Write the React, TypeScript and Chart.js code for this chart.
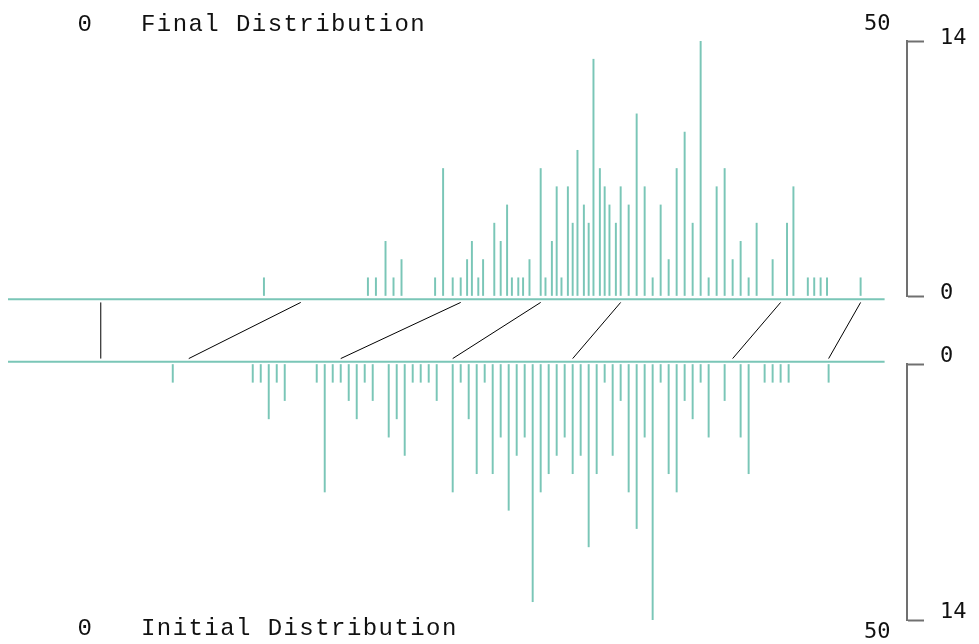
import { useEffect, useRef } from "react";
import { Chart, registerables } from "chart.js";

Chart.register(...registerables);

// ---- data (x positions in the 0..50 units of the chart) ----
const initialX = [
  5.5, 10.5, 11, 11.5, 12, 12.5, 14.5, 15, 15.5, 16, 16.5, 17, 17.5, 18, 19, 19.5, 20, 20.5, 21, 21.5, 22,
  23, 23.5, 24, 24.5, 25, 25.5, 26, 26.5, 27, 27.5, 28, 28.5, 29, 29.5, 30, 30.5, 31, 31.5, 32, 32.5,
  33, 33.5, 34, 34.5, 35, 35.5, 36, 36.5, 37, 37.5, 38, 38.5, 39,
  40, 41, 41.5, 42.5, 43, 43.5, 44, 46.5,
];
const initialCounts = [
  1, 1, 1, 3, 1, 2, 1, 7, 1, 1, 2, 3, 1, 2, 4, 3, 5, 1, 1, 1, 2,
  7, 1, 3, 6, 1, 6, 4, 8, 5, 4, 13, 7, 6, 5, 4, 6, 5, 10, 6, 1,
  5, 2, 7, 9, 4, 14, 1, 6, 7, 2, 3, 1, 4,
  2, 4, 6, 1, 1, 1, 1, 1,
];
const finalX = [
  11.2, 17.7, 18.2, 18.8, 19.3, 19.8, 21.9, 22.4, 23.0, 23.5, 23.9, 24.2, 24.6, 24.9, 25.6, 26.0, 26.4, 26.7, 27.1, 27.4, 27.8,
  28.5, 28.8, 29.2, 29.5, 29.8, 30.2, 30.5, 30.8, 31.2, 31.5, 31.8, 32.2, 32.5, 32.8, 33.2, 33.5, 34, 34.5, 35, 35.5,
  36, 36.5, 37, 37.5, 38, 38.5, 39, 39.5, 40, 40.5, 41, 41.5, 42,
  43, 43.9, 44.3, 45.2, 45.6, 46.0, 46.4, 48.5,
];
const finalCounts = [
  1, 1, 1, 3, 1, 2, 1, 7, 1, 1, 2, 3, 1, 2, 4, 3, 5, 1, 1, 1, 2,
  7, 1, 3, 6, 1, 6, 4, 8, 5, 4, 13, 7, 6, 5, 4, 6, 5, 10, 6, 1,
  5, 2, 7, 9, 4, 14, 1, 6, 7, 2, 3, 1, 4,
  2, 4, 6, 1, 1, 1, 1, 1,
];
// mapping lines: initial value -> final value
const linkInitial = [1, 6.5, 16, 23, 30.5, 40.5, 46.5];
const linkFinal = [1, 13.5, 23.5, 28.5, 33.5, 43.5, 48.5];

const xDomain = [0, 50];
const countDomain = [0, 14];
const titleFinal = "Final Distribution";
const titleInitial = "Initial Distribution";

// ---- styles ----
const TEAL = "rgb(122,198,183)";
const AXIS_GRAY = "#707070";
const TEXT = "#111";
const X_MIN = -4.8;
const X_MAX = 51.4;

const textPlugin = {
  id: "distTexts",
  afterDraw(chart: any) {
    const { ctx } = chart;
    const xs = chart.scales.x;
    ctx.save();
    ctx.fillStyle = TEXT;
    ctx.textBaseline = "alphabetic";
    ctx.font = '24px "Liberation Mono"';
    ctx.letterSpacing = "0px";
    const half = ctx.measureText(String(xDomain[0])).width / 2;
    ctx.letterSpacing = "1.44px";
    ctx.textAlign = "left";
    const x0 = xs.getPixelForValue(xDomain[0]) - half;
    ctx.fillText(`${xDomain[0]}   ${titleFinal}`, x0, 31);
    ctx.fillText(`${xDomain[0]}   ${titleInitial}`, x0, 635);
    ctx.letterSpacing = "0px";
    ctx.font = '22px "DejaVu Sans Mono"';
    ctx.textAlign = "right";
    const x50 = xs.getPixelForValue(xDomain[1]) + 6;
    ctx.fillText(String(xDomain[1]), x50, 30);
    ctx.fillText(String(xDomain[1]), x50, 638);
    ctx.restore();
  },
};

const bracketAxis = (reverse: boolean, offset: number, weight: number) => ({
  type: "linear" as const,
  position: "right" as const,
  stack: "main",
  stackWeight: weight,
  min: countDomain[0],
  max: countDomain[1],
  reverse,
  afterFit: (s: any) => {
    s.width = 72;
    s.paddingTop = 0;
    s.paddingBottom = 0;
  },
  ticks: {
    stepSize: countDomain[1] - countDomain[0],
    padding: 16,
    labelOffset: offset,
    color: TEXT,
    font: { family: '"DejaVu Sans Mono"', size: 22 },
  },
  grid: {
    display: true,
    drawOnChartArea: false,
    drawTicks: true,
    tickLength: 17,
    tickWidth: 2,
    tickColor: AXIS_GRAY,
  },
  border: { display: true, color: AXIS_GRAY, width: 2 },
});

export default function App() {
  const canvasRef = useRef<HTMLCanvasElement | null>(null);

  useEffect(() => {
    if (!canvasRef.current) return;
    const linkSets = linkInitial.map((xi, i) => ({
      type: "line" as const,
      data: [
        { x: xi, y: 0.05 },
        { x: linkFinal[i], y: 0.95 },
      ],
      yAxisID: "yMid",
      borderColor: "#000",
      borderWidth: 1,
      pointRadius: 0,
    }));
    const baseline = (y: number) => ({
      type: "line" as const,
      data: [
        { x: X_MIN, y },
        { x: xDomain[1], y },
      ],
      yAxisID: "yMid",
      borderColor: TEAL,
      borderWidth: 2,
      pointRadius: 0,
    });
    const chart = new Chart(canvasRef.current, {
      type: "bar",
      data: {
        datasets: [
          {
            type: "bar",
            data: finalX.map((x, i) => ({ x, y: finalCounts[i] })),
            yAxisID: "yFinal",
            backgroundColor: TEAL,
            barThickness: 1.3,
            grouped: false,
          },
          {
            type: "bar",
            data: initialX.map((x, i) => ({ x, y: initialCounts[i] })),
            yAxisID: "yInitial",
            backgroundColor: TEAL,
            barThickness: 1.3,
            grouped: false,
          },
          baseline(1),
          baseline(0),
          ...linkSets,
        ] as any,
      },
      options: {
        responsive: false,
        animation: false,
        events: [],
        layout: { padding: { left: 8, top: 41, right: 0, bottom: 24 } },
        plugins: { legend: { display: false }, tooltip: { enabled: false } },
        scales: {
          x: {
            type: "linear",
            min: X_MIN,
            max: X_MAX,
            offset: false,
            display: false,
            grid: { offset: false },
          },
          yFinal: bracketAxis(false, -3, 255),
          yMid: {
            type: "linear",
            position: "right",
            stack: "main",
            stackWeight: 68,
            min: -0.037,
            max: 1.053,
            afterFit: (s: any) => {
              s.width = 72;
              s.paddingTop = 0;
              s.paddingBottom = 0;
            },
            ticks: { display: false },
            grid: { display: false },
            border: { display: false },
          },
          yInitial: bracketAxis(true, -8, 256),
        },
      } as any,
      plugins: [textPlugin],
    });
    return () => chart.destroy();
  }, []);

  return (
    <div style={{ position: "fixed", left: 0, top: 0, width: 979, height: 644, background: "#fff" }}>
      <canvas ref={canvasRef} width={979} height={644} style={{ display: "block" }} />
    </div>
  );
}
